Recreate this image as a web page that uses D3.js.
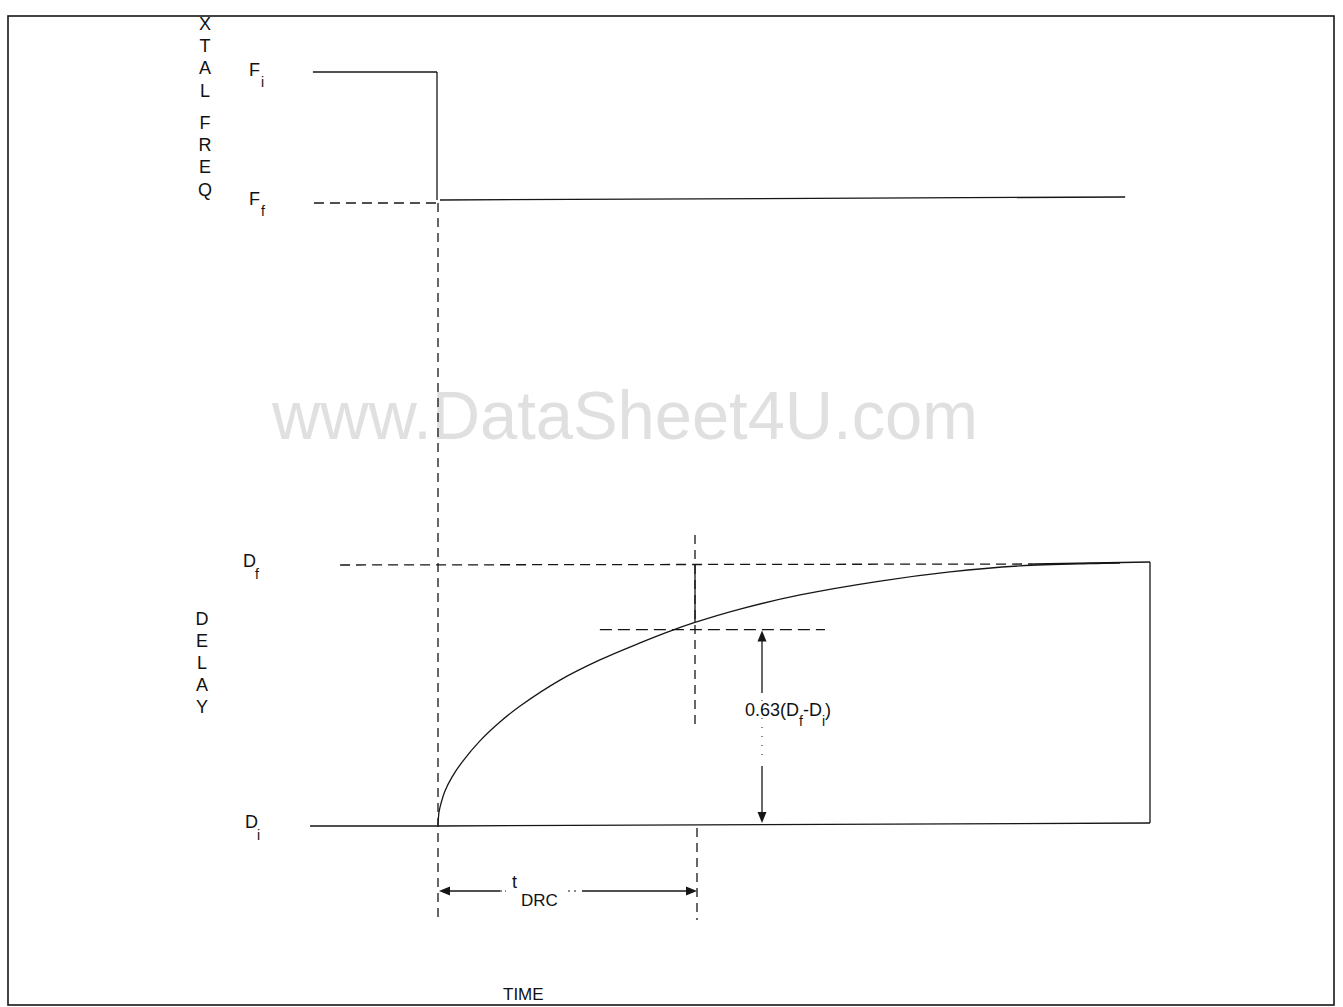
<!DOCTYPE html>
<html>
<head>
<meta charset="utf-8">
<script src="https://cdn.jsdelivr.net/npm/d3@7"></script>
<style>
  html, body { margin: 0; padding: 0; background: #fff; }
  svg { display: block; }
  text { font-family: "Liberation Sans", Arial, Helvetica, sans-serif; fill: #111; }
</style>
</head>
<body>
<svg id="chart" width="1343" height="1007"></svg>
<script>
// ---------- data (time in units of t_DRC, delay as fraction Di→Df) ----------
const curveTime  = [0, 0.004, 0.012, 0.027, 0.054, 0.093, 0.162, 0.239, 0.317, 0.471, 0.625, 0.780, 0.896, 0.992, 1.166, 1.398, 1.707, 1.977, 2.247, 2.517, 2.633];
const curveDelay = [0, 0.050, 0.084, 0.130, 0.183, 0.240, 0.321, 0.393, 0.454, 0.553, 0.630, 0.695, 0.740, 0.773, 0.824, 0.878, 0.931, 0.966, 0.989, 0.998, 1.0];

const freqLevels   = [1, 0];        // Fi, Ff (normalised)
const freqNames    = ["F", "F"];
const freqSubs     = ["i", "f"];
const delayLevels  = [1, 0];        // Df, Di
const delayNames   = ["D", "D"];
const delaySubs    = ["f", "i"];

const stepTime     = 0;             // frequency step / start of delay change
const tDRC         = 1;             // time constant marker
const endTime      = 2.749;         // right edge of delay box
const freqEndTime  = 2.653;         // end of Ff line
const leftTime     = [-0.483, -0.479, -0.378, -0.494]; // Fi, Ff, Df, Di line starts
const riseLevel    = 0.746;         // level of 0.63(Df-Di) line as drawn
const riseArrowT   = 1.251;         // vertical dimension arrow position
const riseLineT    = [0.625, 1.494];

const freqAxisWords    = [["X","T","A","L"], ["F","R","E","Q"]];
const delayAxisLetters = ["D","E","L","A","Y"];
const xLabel = "TIME";
const watermark = "www.DataSheet4U.com";

// ---------- scales ----------
const svg = d3.select("#chart");
const x  = d3.scaleLinear().domain([0, 1]).range([438, 697]);
const yF = d3.scaleLinear().domain([0, 1]).range([201, 72]);
const yD = d3.scaleLinear().domain([0, 1]).range([825, 563]);

const ink = "#161616";
const sw = 1.3;

function line(x1, y1, x2, y2, dash, w) {
  svg.append("line").attr("x1", x1).attr("y1", y1).attr("x2", x2).attr("y2", y2)
    .attr("stroke", ink).attr("stroke-width", w || sw)
    .attr("stroke-dasharray", dash || null);
}

// watermark
svg.append("text").attr("x", 272).attr("y", 439)
  .attr("textLength", 706).attr("lengthAdjust", "spacingAndGlyphs")
  .style("font-size", "68px").style("fill", "#e0e0e0").text(watermark);

// frame
svg.append("rect").attr("x", 8).attr("y", 16).attr("width", 1326).attr("height", 989)
  .attr("fill", "none").attr("stroke", ink).attr("stroke-width", 1.6);

// ---------- frequency step ----------
line(x(leftTime[0]), yF(freqLevels[0]), x(stepTime) - 1, yF(freqLevels[0]));
line(x(stepTime) - 1, yF(freqLevels[0]), x(stepTime) - 1, yF(freqLevels[1]) - 1);
line(x(leftTime[1]), yF(freqLevels[1]) + 2, x(stepTime), yF(freqLevels[1]) + 2, "10,6");
line(x(stepTime) + 2, yF(freqLevels[1]) - 1, x(freqEndTime), yF(freqLevels[1]) - 4);

// vertical dashed reference through step
line(x(stepTime), yF(freqLevels[1]) + 2, x(stepTime), 920, "9,6");

// ---------- delay box ----------
line(x(leftTime[2]), yD(delayLevels[0]) + 2, x(2.3), yD(delayLevels[0]) + 1, "10,6");
line(x(2.3), yD(delayLevels[0]) + 1, x(endTime), yD(delayLevels[0]) - 1);
line(x(leftTime[3]), yD(delayLevels[1]) + 1, x(stepTime), yD(delayLevels[1]) + 1);
line(x(stepTime), yD(delayLevels[1]) + 1, x(endTime), yD(delayLevels[1]) - 2);
line(x(endTime), yD(delayLevels[0]) - 1, x(endTime), yD(delayLevels[1]) - 2);

// t_DRC vertical marker
line(x(tDRC) - 2, 535, x(tDRC) - 2, 727, "9,6");
line(x(tDRC) - 2, yD(delayLevels[0]) + 1, x(tDRC) - 2, yD(0.775), null);
line(x(tDRC), yD(delayLevels[1]) + 3, x(tDRC), 920, "9,6");

// rise level line
line(x(riseLineT[0]), yD(riseLevel), x(riseLineT[1]), yD(riseLevel), "12,6");

// ---------- curve ----------
const pts = curveTime.map((t, i) => [x(t), yD(curveDelay[i])]);
svg.append("path").datum(pts)
  .attr("d", d3.line().curve(d3.curveCatmullRom.alpha(0.5)))
  .attr("fill", "none").attr("stroke", ink).attr("stroke-width", 1.3);

// ---------- arrows ----------
function arrowHead(tipX, tipY, dir) {
  const L = 11, W = 4.5;
  let p;
  if (dir === "up")    p = [[tipX, tipY], [tipX - W, tipY + L], [tipX + W, tipY + L]];
  if (dir === "down")  p = [[tipX, tipY], [tipX - W, tipY - L], [tipX + W, tipY - L]];
  if (dir === "left")  p = [[tipX, tipY], [tipX + L, tipY - W], [tipX + L, tipY + W]];
  if (dir === "right") p = [[tipX, tipY], [tipX - L, tipY - W], [tipX - L, tipY + W]];
  svg.append("path").attr("d", "M" + p.join("L") + "Z").attr("fill", ink);
}
const ax = x(riseArrowT);
const aTop = yD(riseLevel) + 1, aBot = yD(delayLevels[1]) - 2;
arrowHead(ax, aTop, "up");
arrowHead(ax, aBot, "down");
line(ax, aTop + 8, ax, 693);
line(ax, 766, ax, aBot - 8);
line(ax, 700, ax, 760, "1,8", 1);

const ty = 891;
arrowHead(x(stepTime) + 1, ty, "left");
arrowHead(x(tDRC), ty, "right");
line(x(stepTime) + 8, ty, 500, ty);
line(500, ty, 506, ty, "2,3", 1);
line(568, ty, 580, ty, "2,4", 1);
line(582, ty, x(tDRC) - 8, ty);

// ---------- labels ----------
freqAxisWords.forEach((word, w) => {
  word.forEach((c, i) => {
    svg.append("text").attr("x", 205).attr("y", (w === 0 ? 30 : 129) + i * 22.2)
      .attr("text-anchor", "middle").style("font-size", "18px").text(c);
  });
});
delayAxisLetters.forEach((c, i) => {
  svg.append("text").attr("x", 202).attr("y", 625 + i * 22)
    .attr("text-anchor", "middle").style("font-size", "18px").text(c);
});

freqLevels.forEach((v, i) => {
  const by = yF(v) + 4;
  svg.append("text").attr("x", 249).attr("y", by).style("font-size", "18px").text(freqNames[i]);
  svg.append("text").attr("x", 261).attr("y", by + 11).style("font-size", "14px").text(freqSubs[i]);
});
const dOff = [4, 3];
const dX = [243, 245];
delayLevels.forEach((v, i) => {
  const by = yD(v) + dOff[i];
  svg.append("text").attr("x", dX[i]).attr("y", by).style("font-size", "18px").text(delayNames[i]);
  svg.append("text").attr("x", dX[i] + 12).attr("y", by + 12).style("font-size", "14px").text(delaySubs[i]);
});

const lab = svg.append("text").attr("x", 745).attr("y", 716).style("font-size", "18px");
lab.append("tspan").text("0.63(D");
lab.append("tspan").attr("dy", 10).style("font-size", "14px").text("f");
lab.append("tspan").attr("dy", -10).text("-D");
lab.append("tspan").attr("dy", 10).style("font-size", "14px").text("i");
lab.append("tspan").attr("dy", -10).text(")");

const tl = svg.append("text").attr("x", 512).attr("y", 888).style("font-size", "18px");
tl.append("tspan").text("t");
tl.append("tspan").attr("dy", 18).attr("dx", 4).style("font-size", "17px").text("DRC");

svg.append("text").attr("x", 503).attr("y", 1000).style("font-size", "17px").text(xLabel);
</script>
</body>
</html>
